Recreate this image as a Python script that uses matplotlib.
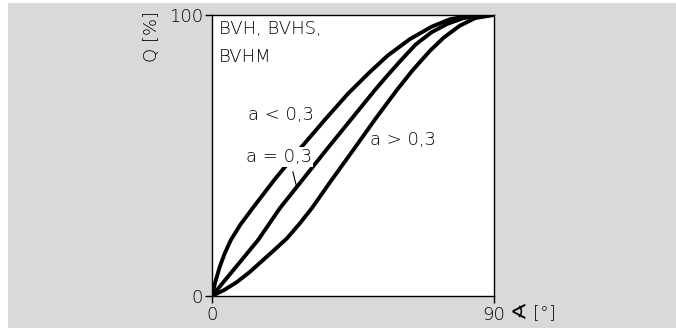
import matplotlib.pyplot as plt
from matplotlib.patches import Rectangle

plt.rcParams['font.family'] = ['DejaVu Sans']

# angle (deg) / flow Q (%)
x_low = [0, 1.0, 2.5, 4.0, 6.0, 9.0, 12.8, 20.0, 28.0, 36.0, 43.4, 50.0, 56.0, 63.0, 70.0, 76.0, 82.0, 90]
q_low = [0, 4.8, 10.5, 15.0, 19.9, 25.3, 31.0, 41.5, 52.3, 62.7, 72.0, 79.3, 85.5, 91.3, 95.8, 98.5, 99.7, 100]

x_mid = [0, 14.7, 21.7, 36.7, 52.0, 56.0, 60.0, 65.0, 70.0, 75.0, 80.0, 85.0, 90]
q_mid = [0, 19.9, 31.3, 52.3, 73.3, 78.5, 83.5, 89.5, 93.8, 96.8, 98.8, 99.8, 100]

x_high = [0, 4.0, 8.0, 12.0, 16.0, 20.0, 23.9, 28.0, 31.9, 38.0, 45.3, 52.0, 59.0, 64.0, 69.6, 74.0, 79.1, 84.0, 90]
q_high = [0, 2.2, 5.0, 8.5, 12.5, 16.5, 20.5, 25.8, 31.3, 41.0, 52.3, 62.8, 73.3, 80.3, 87.3, 92.0, 96.2, 98.9, 100]

gray = '#d9d9d9'
fs = 13
fw = 'light'

fig = plt.figure(figsize=(6.76, 3.28), dpi=100, facecolor='white')
fig.patches.append(Rectangle((8 / 676, 0), 1, 325 / 328, transform=fig.transFigure,
                             facecolor=gray, edgecolor='none', zorder=-10))
ax = fig.add_axes([212 / 676, 32 / 328, 282 / 676, 281 / 328])
ax.set_facecolor('white')

for xs, qs in [(x_low, q_low), (x_mid, q_mid), (x_high, q_high)]:
    ax.plot(xs, qs, color='black', lw=2.8, solid_capstyle='round', solid_joinstyle='round')

ax.set_xlim(0, 90)
ax.set_ylim(0, 100)
ax.set_xticks([0, 90])
ax.set_xticklabels(['0', '90'], fontsize=fs, fontweight=fw)
ax.set_yticks([0, 100])
ax.set_yticklabels(['0', '100'], fontsize=fs, fontweight=fw)
ax.tick_params(length=5, width=1, pad=1.5, color='black')
ax.tick_params(axis='x', pad=2.5)
for s in ax.spines.values():
    s.set_linewidth(1)

ax.text(2.2, 98.2, 'BVH, BVHS,', fontsize=fs, fontweight=fw, va='top', ha='left')
ax.text(2.2, 88.2, 'BVHM', fontsize=fs, fontweight=fw, va='top', ha='left')
ax.text(22.0, 64.4, 'a < 0,3', fontsize=fs, fontweight=fw, va='center', ha='center')
ax.text(21.4, 49.5, 'a = 0,3', fontsize=fs, fontweight=fw, va='center', ha='center',
        bbox=dict(facecolor='white', edgecolor='none', pad=0.5))
ax.text(61.0, 55.5, 'a > 0,3', fontsize=fs, fontweight=fw, va='center', ha='center')
ax.plot([25.8, 27.0], [44.2, 38.9], color='black', lw=0.8)

# angle sign: the light face has no glyph for it, so draw it in the regular face
ax.text(95.0, -6.0, '∢', fontsize=15, fontweight='normal', va='center', ha='left', clip_on=False)
ax.text(102.4, -6.2, '[°]', fontsize=fs, fontweight=fw, va='center', ha='left', clip_on=False)
ax.text(-19.1, 92.2, 'Q [%]', fontsize=fs, fontweight=fw, va='center', ha='center',
        rotation=90, clip_on=False)

fig.savefig('out.png', dpi=100, facecolor=fig.get_facecolor())
